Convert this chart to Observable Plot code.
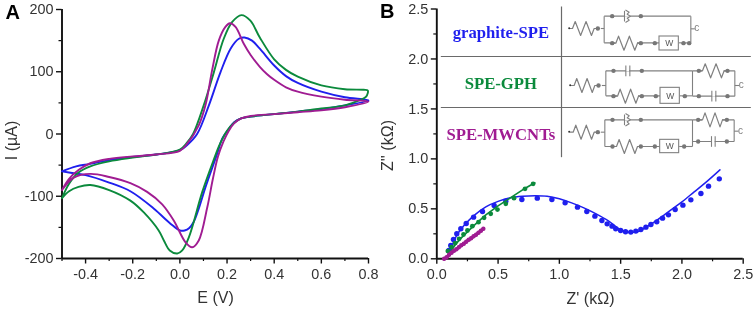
<!DOCTYPE html>
<html><head><meta charset="utf-8">
<style>
html,body{margin:0;padding:0;background:#fff;width:754px;height:310px;overflow:hidden}
#chart{position:relative;width:754px;height:310px}
#chart svg{position:absolute;left:0;top:0;overflow:visible;background:transparent;filter:blur(0.35px)}
</style>
<script src="https://cdn.jsdelivr.net/npm/d3@7"></script>
<script src="https://cdn.jsdelivr.net/npm/@observablehq/plot@0.6"></script>
</head><body><div id="chart"></div>
<script>
// Panel A: cyclic voltammograms (E in V, I in µA)
const cvBlueE=[-0.5,-0.44,-0.38,-0.3,-0.2,-0.1,0,0.03,0.073,0.123,0.172,0.215,0.25,0.274,0.306,0.339,0.4,0.45,0.5,0.6,0.7,0.8,0.7,0.6,0.5,0.4,0.3,0.26,0.23,0.207,0.18,0.158,0.109,0.08,0.059,0.04,0.02,0,-0.04,-0.11,-0.21,-0.3,-0.4,-0.45,-0.5];
const cvBlueI=[-60,-52,-48,-42,-37,-33,-26,-18,0,46,99,137,153,155,150,137,110,93,82,68,59,54,46,40,36,32,28,25,19,8,-7,-32,-85,-120,-141,-151,-155,-155,-144,-120,-92,-78,-66,-63,-60];
const cvGreenE=[-0.5,-0.47,-0.43,-0.38,-0.3,-0.2,-0.1,0,0.03,0.056,0.101,0.144,0.186,0.222,0.261,0.299,0.339,0.4,0.45,0.5,0.6,0.7,0.78,0.797,0.79,0.76,0.7,0.6,0.5,0.4,0.3,0.26,0.23,0.2,0.17,0.142,0.095,0.038,0.01,-0.011,-0.043,-0.068,-0.09,-0.153,-0.21,-0.3,-0.38,-0.43,-0.47,-0.5];
const cvGreenI=[-103,-80,-62,-52,-44,-38,-33,-25,-14,0,46,99,153,180,191,182,155,120,103,92,78,72,71,70,60,54,46,41,36,32,28,25,18,5,-16,-43,-93,-166,-187,-192,-187,-171,-155,-126,-107,-90,-82,-85,-92,-103];
const cvPurpleE=[-0.5,-0.47,-0.43,-0.38,-0.3,-0.2,-0.1,0,0.03,0.08,0.109,0.137,0.165,0.193,0.212,0.236,0.271,0.3,0.339,0.37,0.4,0.45,0.5,0.6,0.7,0.8,0.7,0.6,0.5,0.4,0.3,0.26,0.23,0.207,0.185,0.161,0.14,0.116,0.08,0.052,0.024,-0.026,-0.075,-0.139,-0.21,-0.3,-0.38,-0.45,-0.5];
const cvPurpleI=[-90,-72,-58,-47,-40,-36,-33,-27,-16,14,47,103,150,172,178,172,145,127,108,96,87,75,68,60,55,52,43,38,35,32,29,25,17,5,-12,-37,-72,-118,-171,-182,-174,-139,-113,-93,-79,-69,-64,-70,-90];
const cvTicksX=[-0.4,-0.2,0,0.2,0.4,0.6,0.8];
const cvMinorX=[-0.5,-0.3,-0.1,0.1,0.3,0.5,0.7];
const cvTicksY=[-200,-100,0,100,200];
const cvMinorY=[-150,-50,50,150];

// Panel B: Nyquist plots (Z' and Z" in kOhm)
const nyBlueLineX=[0.09,0.1,0.13,0.17,0.22,0.3,0.4,0.5,0.6,0.7,0.8,0.9,1.0,1.1,1.2,1.3,1.4,1.5,1.55,1.6,1.65,1.7,1.8,1.9,2.0,2.1,2.2,2.31];
const nyBlueLineY=[0.02,0.05,0.15,0.25,0.33,0.43,0.52,0.575,0.61,0.625,0.63,0.625,0.6,0.56,0.51,0.45,0.38,0.29,0.27,0.265,0.275,0.31,0.39,0.48,0.57,0.67,0.77,0.89];
const nyBlueDotX=[2.305,2.217,2.155,2.073,2.008,1.945,1.89,1.842,1.795,1.747,1.706,1.665,1.624,1.583,1.54,1.5,1.46,1.43,1.39,1.347,1.29,1.224,1.148,1.047,0.939,0.82,0.694,0.563,0.468,0.373,0.3,0.24,0.196,0.163,0.136,0.114,0.098];
const nyBlueDotY=[0.8,0.727,0.653,0.59,0.537,0.493,0.44,0.407,0.37,0.343,0.317,0.293,0.277,0.267,0.27,0.283,0.3,0.327,0.35,0.383,0.427,0.473,0.517,0.56,0.593,0.607,0.593,0.577,0.533,0.473,0.417,0.353,0.3,0.25,0.193,0.133,0.083];
const nyGreenLineX=[0.09,0.15,0.2,0.3,0.4,0.5,0.6,0.7,0.8];
const nyGreenLineY=[0.03,0.14,0.21,0.33,0.44,0.53,0.61,0.69,0.76];
const nyGreenDotX=[0.786,0.72,0.63,0.563,0.495,0.44,0.386,0.34,0.29,0.25,0.218,0.182,0.15,0.12,0.09];
const nyGreenDotY=[0.75,0.7,0.607,0.55,0.493,0.45,0.41,0.367,0.327,0.283,0.243,0.2,0.157,0.117,0.077];
const nyPurpleX=[0.06,0.08,0.1,0.12,0.14,0.16,0.18,0.2,0.22,0.24,0.26,0.28,0.3,0.32,0.34,0.36,0.38];
const nyPurpleY=[0,0.015,0.04,0.06,0.08,0.095,0.115,0.135,0.15,0.17,0.19,0.205,0.225,0.24,0.26,0.28,0.3];
const nyTicksX=[0,0.5,1,1.5,2,2.5];
const nyMinorX=[0.25,0.75,1.25,1.75,2.25];
const nyTicksY=[0,0.5,1,1.5,2,2.5];
const nyMinorY=[0.25,0.75,1.25,1.75,2.25];

// Colours
const BLUE="#1f1fee",GREEN="#0b8a3c",PURPLE="#a01c92",WIRE="#808080",LINE="#6a6a6a";

// Schematic inset of panel B, in its own diagram units (three per pixel)
const dividers=[[190,168,1120,168],[190,321,1120,321],[552,18,552,470]];
const wires=[
 [680,47,940,47],[680,47,680,127],[680,127,846,127],[904,127,940,127],[940,47,940,127],[940,85,952,85],[670,84,680,84],
 [685,211,945,211],[685,211,685,286],[685,286,849,286],[907,286,945,286],[945,211,945,286],[945,211,1072,211],[945,287,1072,287],[1072,211,1072,287],[1072,255,1085,255],[673,255,685,255],
 [682,358,945,358],[682,358,682,438],[682,438,848,438],[905,438,945,438],[945,358,945,438],[945,358,1070,358],[945,423,1070,423],[1070,358,1070,423],[1070,392,1083,392],[670,395,682,395]
];
const resistors=[[585,650,84],[715,780,128],[590,652,255],[975,1040,211],[720,783,287],[587,650,395],[975,1035,358],[717,780,438]];
const nodes=[
 [661,84],[704,47],[790,47],[704,128],[790,128],[832,128],[918,128],[935,128],
 [663,255],[708,211],[793,211],[964,211],[1050,211],[964,287],[1050,287],[708,287],[793,287],[835,287],[922,287],
 [661,395],[705,358],[790,358],[962,358],[1048,358],[962,423],[1048,423],[705,438],[790,438],[832,438],[920,438]
];
const startPins=[[575,83],[578,254],[575,394]];
const plates=[[745,211],[757,211],[1003,287],[1015,287],[1002,423],[1013,423]];
const cpes=[[741,47],[741,358]];
const warburg=[[846,904,108,150],[849,907,262,310],[848,905,418,458]];
const terminals=[[958,83],[1091,253],[1089,390]];
const seriesNames=[["graphite-SPE",370,96,BLUE],["SPE-GPH",370,250,GREEN],["SPE-MWCNTs",370,402,PURPLE]];
const axisTitles=[["E (V)",645,892,0],["I (µA)",33,420,-90],["Z' (kΩ)",1770,895,0],["Z'' (kΩ)",1161,435,-90]];
const panelLetters=[["A",37,37],["B",1160,34]];

const zig=([a,b,y])=>{const s=(b-a)/4,o=[[a-8,y],[a,y]];
  [[.5,-1],[1.5,1],[2.5,-1],[3.5,1]].forEach(([k,d])=>o.push([a+k*s,y+d*21]));
  o.push([b,y]);o.push([b+6,y]);return o;};
const F="'Liberation Sans',Arial,sans-serif";
const pts=(X,Y)=>X.map((x,i)=>({x,y:Y[i]}));
const chart=document.getElementById("chart");

function axes(xT,xM,yT,yM,xd,yd,fx,fy,w,h){
  const tx=(xd[1]-xd[0])*3/w, ty=(yd[1]-yd[0])*3/h;
  return [
  Plot.axisX(xT,{anchor:"bottom",tickSize:5.5,tickPadding:4.5,tickFormat:fx,stroke:"#111",strokeWidth:1.4,label:null,fontSize:14.4}),
  Plot.axisY(yT,{anchor:"left",tickSize:5.5,tickPadding:3,tickFormat:fy,stroke:"#111",strokeWidth:1.4,label:null,fontSize:14.4}),
  Plot.ruleX(xM,{y1:yd[0],y2:yd[0]-ty,stroke:"#111",strokeWidth:1.2}),
  Plot.ruleY(yM,{x1:xd[0],x2:xd[0]-tx,stroke:"#111",strokeWidth:1.2}),
  Plot.ruleX([xd[0]],{stroke:"#111",strokeWidth:1.9}),
  Plot.ruleY([yd[0]],{stroke:"#111",strokeWidth:1.9})
];}
const base={width:754,height:310,style:{background:"transparent",color:"#333",fontFamily:F,overflow:"visible"}};

chart.append(Plot.plot({...base,marginLeft:61.5,marginRight:386,marginTop:9,marginBottom:52,
  x:{domain:[-0.5,0.8]},y:{domain:[-200,200]},
  marks:[...axes(cvTicksX,cvMinorX,cvTicksY,cvMinorY,[-0.5,0.8],[-200,200],d=>d.toFixed(1),d=>String(d),306.5,249),
    Plot.line(pts(cvBlueE,cvBlueI),{x:"x",y:"y",stroke:BLUE,strokeWidth:1.9,curve:"catmull-rom"}),
    Plot.line(pts(cvGreenE,cvGreenI),{x:"x",y:"y",stroke:GREEN,strokeWidth:1.9,curve:"catmull-rom"}),
    Plot.line(pts(cvPurpleE,cvPurpleI),{x:"x",y:"y",stroke:PURPLE,strokeWidth:1.9,curve:"catmull-rom"})
  ]}));

chart.append(Plot.plot({...base,marginLeft:436.3,marginRight:11.3,marginTop:8.5,marginBottom:51.7,
  x:{domain:[0,2.5]},y:{domain:[0,2.5]},
  marks:[...axes(nyTicksX,nyMinorX,nyTicksY,nyMinorY,[0,2.5],[0,2.5],d=>d.toFixed(1),d=>d.toFixed(1),306.4,249.8),
    Plot.line(pts(nyBlueLineX,nyBlueLineY),{x:"x",y:"y",stroke:BLUE,strokeWidth:1.5,curve:"catmull-rom"}),
    Plot.dot(pts(nyBlueDotX,nyBlueDotY),{x:"x",y:"y",r:2.7,fill:BLUE}),
    Plot.line(pts(nyGreenLineX,nyGreenLineY),{x:"x",y:"y",stroke:GREEN,strokeWidth:1.7}),
    Plot.dot(pts(nyGreenDotX,nyGreenDotY),{x:"x",y:"y",r:2.4,fill:GREEN}),
    Plot.line(pts(nyPurpleX,nyPurpleY),{x:"x",y:"y",stroke:PURPLE,strokeWidth:3.2}),
    Plot.dot(pts(nyPurpleX,nyPurpleY),{x:"x",y:"y",r:2.2,fill:PURPLE})
  ]}));

const link=(data,o)=>Plot.link(data,{x1:d=>d[0],y1:d=>d[1],x2:d=>d[2],y2:d=>d[3],...o});
chart.append(Plot.plot({...base,margin:0,
  x:{type:"linear",domain:[0,2262],range:[0,754],axis:null},y:{type:"linear",domain:[0,930],range:[0,310],axis:null},
  marks:[
    link(dividers.map(d=>[d[0]+1131,d[1],d[2]+1131,d[3]]),{stroke:LINE,strokeWidth:1.2}),
    link(wires.map(d=>[d[0]+1131,d[1],d[2]+1131,d[3]]),{stroke:WIRE,strokeWidth:1.1}),
    Plot.rect(resistors,{x1:d=>d[0]+1131,x2:d=>d[1]+1131,y1:d=>d[2]-5,y2:d=>d[2]+5,fill:"#fff"}),
    ...resistors.map(r=>Plot.line(zig(r),{x:d=>d[0]+1131,y:d=>d[1],stroke:WIRE,strokeWidth:1.2})),
    Plot.rect(plates.filter((d,i)=>i%2==0),{x1:d=>d[0]+1133,x2:d=>d[0]+1142,y1:d=>d[1]-3,y2:d=>d[1]+3,fill:"#fff"}),
    link(plates.map(d=>[d[0]+1131,d[1]-16,d[0]+1131,d[1]+16]),{stroke:WIRE,strokeWidth:1.1}),
    Plot.rect(cpes,{x1:d=>d[0]+1134,x2:d=>d[0]+1150,y1:d=>d[1]-3,y2:d=>d[1]+3,fill:"#fff"}),
    link(cpes.map(d=>[d[0]+1131,d[1]-16,d[0]+1131,d[1]+16]),{stroke:WIRE,strokeWidth:1.1}),
    ...cpes.map(c=>Plot.line([[0,-18],[10,-12],[4,-6],[14,0],[4,6],[10,12],[0,18]],{x:d=>c[0]+1131+4+d[0],y:d=>c[1]+d[1],stroke:WIRE,strokeWidth:1.1})),
    Plot.rect(warburg,{x1:d=>d[0]+1131,x2:d=>d[1]+1131,y1:d=>d[2],y2:d=>d[3],fill:"#fff",stroke:WIRE,strokeWidth:1.1}),
    Plot.text(warburg,{x:d=>(d[0]+d[1])/2+1131,y:d=>(d[2]+d[3])/2,text:()=>"W",fill:"#555",fontSize:8.5}),
    Plot.dot(nodes,{x:d=>d[0]+1131,y:d=>d[1],r:2.2,fill:"#777"}),
    Plot.dot(startPins,{x:d=>d[0]+1131,y:d=>d[1],r:1,fill:"#333"}),
    Plot.text(terminals,{x:d=>d[0]+1131,y:d=>d[1],text:()=>"c",fill:WIRE,fontSize:10}),
    Plot.text(seriesNames,{x:d=>d[1]+1131,y:d=>d[2],text:d=>d[0],fill:d=>d[3],fontFamily:"'Liberation Serif',serif",fontWeight:"bold",fontSize:16.7}),
    ...axisTitles.map(t=>Plot.text([t],{x:d=>d[1],y:d=>d[2],text:d=>d[0],rotate:t[3],fill:"#333",fontSize:16})),
    Plot.text(panelLetters,{x:d=>d[1],y:d=>d[2],text:d=>d[0],fill:"#000",fontWeight:"bold",fontSize:20,fontFamily:F})
  ]}));
</script></body></html>
